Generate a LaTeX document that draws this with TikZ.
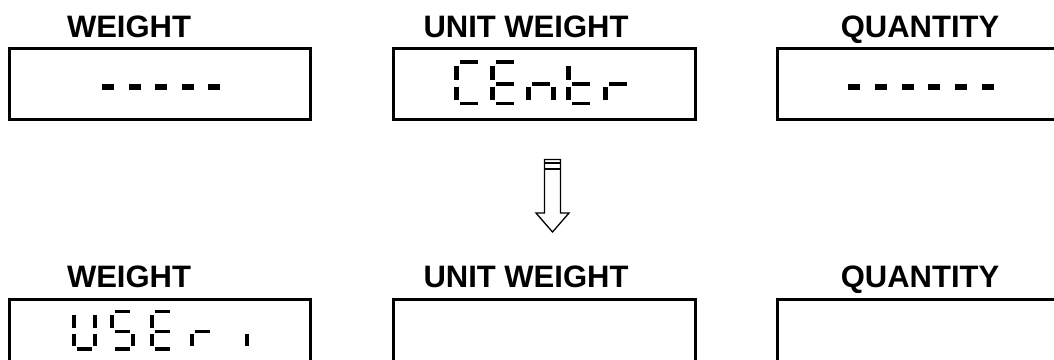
\documentclass[tikz,border=0pt]{standalone}
\usepackage{fontspec}
\setmainfont{Liberation Sans}
% seven-segment pieces, local coordinates (x right, y down, 1 unit = 1pt)
\newcommand\SegA{\fill (5.5,0) rectangle (23.5,3.5);}
\newcommand\SegB{\fill (24.5,6) rectangle (29.5,20);}
\newcommand\SegC{\fill (24.5,27) rectangle (29.5,40);}
\newcommand\SegD{\fill (5.5,41.5) rectangle (23.5,45);}
\newcommand\SegE{\fill (0,27) rectangle (4.5,40);}
\newcommand\SegF{\fill (0,6) rectangle (4.5,20);}
\newcommand\SegG{\fill (5.5,22) rectangle (23.5,25.5);}
\newcommand\Digit[2]{\begin{scope}[shift={#1}]#2\end{scope}}
\begin{document}
\begin{tikzpicture}[x=1pt,y=-1pt,
  title/.style={font=\fontsize{31}{31}\selectfont\bfseries, anchor=base, inner sep=0pt},
  display/.style={draw=black, line width=3pt},
  hollow/.style={draw=black, line width=1.3pt, line join=miter}]
\useasboundingbox (0,0) rectangle (1054,359);
\clip (0,0) rectangle (1054,359);

% ---- top row ----
\node[title] (tw1) at (129,37.5) {WEIGHT};
\node[title] (tu1) at (526,37.5) {UNIT WEIGHT};
\node[title] (tq1) at (920,37.5) {QUANTITY};

\draw[display] (9.5,48.5) rectangle (310.5,119.5);
\draw[display] (393.5,48.5) rectangle (695.5,119.5);
\draw[display] (777.5,48.5) rectangle (1070,119.5);

% dashes in WEIGHT display
\foreach \x in {102,128.5,155,181.5,208}
  \fill (\x,83.5) rectangle ++(12,6);
% dashes in QUANTITY display
\foreach \x in {848,874.8,901.6,928.4,955.2,982}
  \fill (\x,83.5) rectangle ++(12,6);

% CEntr
\Digit{(454,60)}{\SegA\SegF\SegE\SegD}
\Digit{(490,60)}{\SegA\SegF\SegG\SegE\SegD}
\Digit{(526,60)}{\SegG\SegE\SegC}
\Digit{(566,60)}{\SegF\SegE\SegG\SegD}
\Digit{(603,60)}{\SegE\SegG}

% ---- arrow ----
\draw[hollow] (544.5,159.5) -- (544.5,213) -- (536,213) -- (552.5,232)
  -- (569,213) -- (560.5,213) -- (560.5,159.5) -- cycle;
\draw[hollow] (544.5,163) -- (560.5,163);
\draw[hollow] (544.5,169) -- (560.5,169);

% ---- bottom row ----
\node[title] (tw2) at (129,287) {WEIGHT};
\node[title] (tu2) at (526,287) {UNIT WEIGHT};
\node[title] (tq2) at (920,287) {QUANTITY};

\draw[display] (9.5,299.5) rectangle (310.5,380);
\draw[display] (393.5,299.5) rectangle (695.5,380);
\draw[display] (777.5,299.5) rectangle (1070,380);

% USEr i
\begin{scope}[xscale=0.85,yscale=0.9]
\Digit{(72/0.85,310/0.9)}{\SegF\SegE\SegB\SegC\SegD}
\Digit{(110/0.85,310/0.9)}{\SegA\SegF\SegG\SegC\SegD}
\Digit{(150/0.85,310/0.9)}{\SegA\SegF\SegG\SegE\SegD}
\Digit{(190/0.85,310/0.9)}{\SegE\SegG}
\Digit{(245/0.85,310/0.9)}{\fill (0,27) rectangle (5,40);}
\end{scope}
\end{tikzpicture}
\end{document}
